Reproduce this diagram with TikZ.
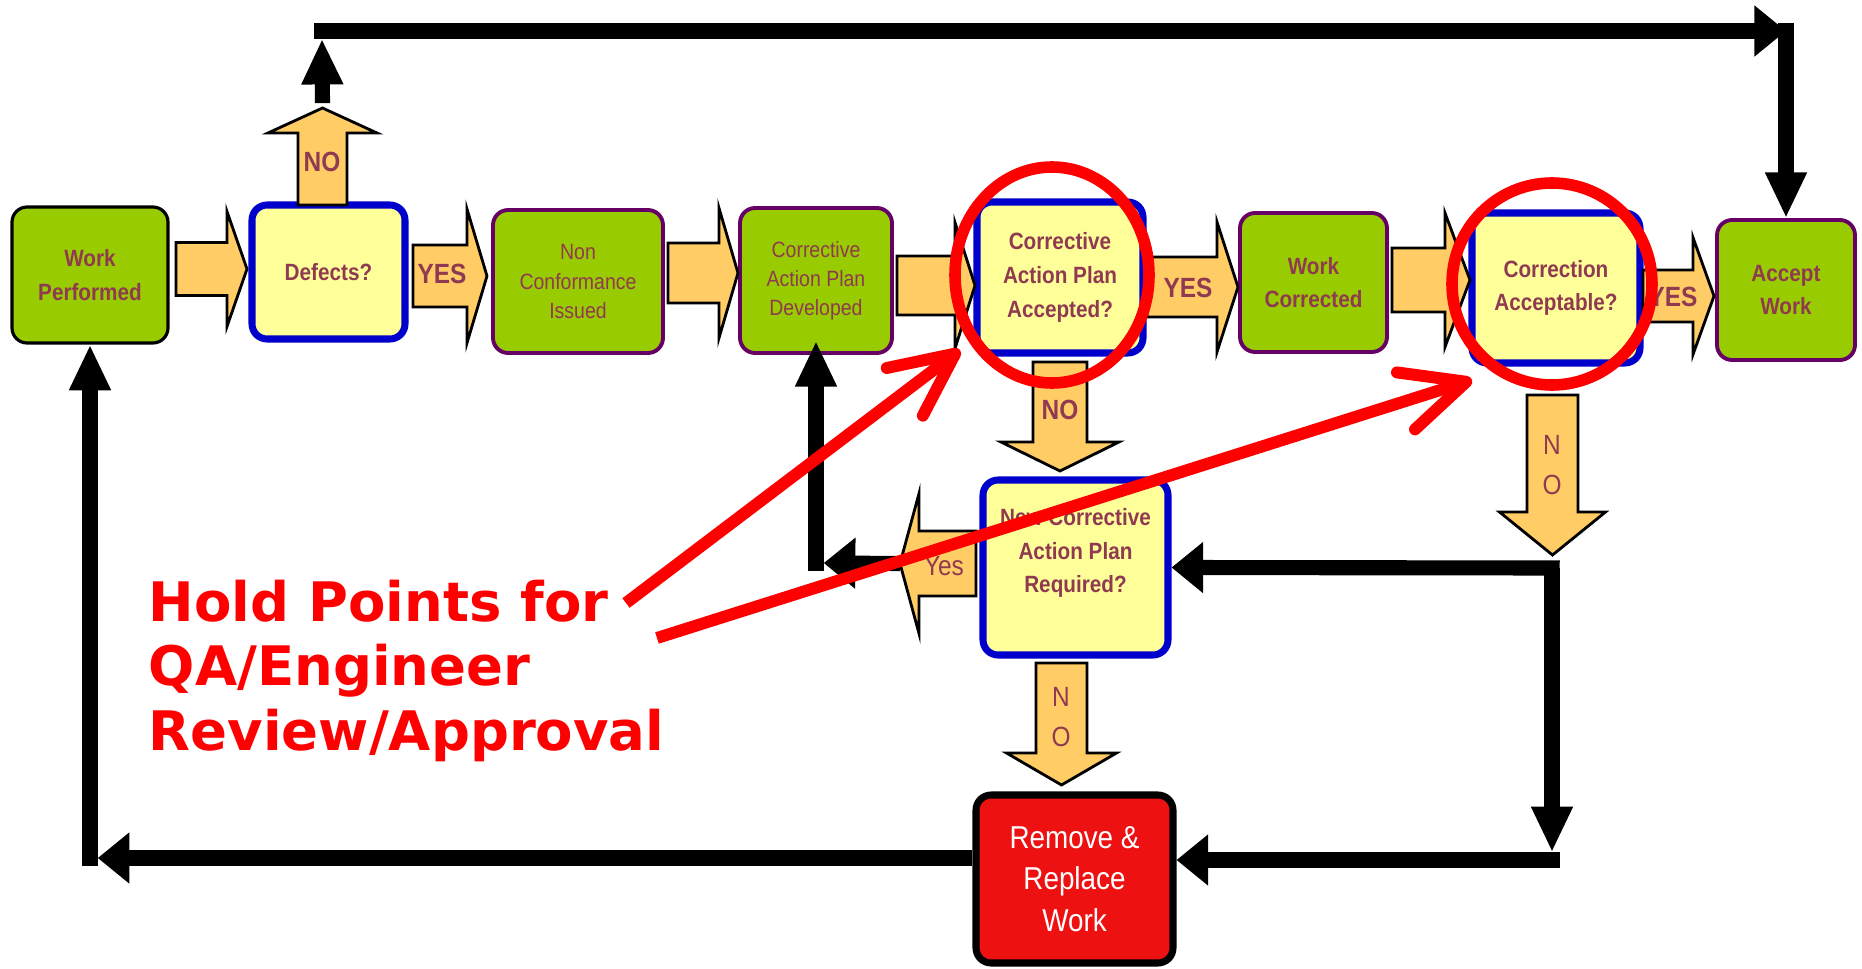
\documentclass[tikz,border=0pt]{standalone}
\usepackage{fontspec}
\newfontfamily\boxfont[FakeStretch=0.88]{Liberation Sans}
\newfontfamily\holdfont{DejaVu Sans}
\usetikzlibrary{arrows.meta, positioning, shapes.geometric, calc}
\definecolor{CLime}{HTML}{99CC00}
\definecolor{CPlum}{HTML}{660066}
\definecolor{CCream}{HTML}{FFFF99}
\definecolor{CBlue}{HTML}{0000CC}
\definecolor{COrange}{HTML}{FFCC66}
\definecolor{CMaroon}{HTML}{8F3A50}
\definecolor{CAlert}{HTML}{FF0000}
\definecolor{CRemove}{HTML}{EE1111}

\tikzset{
  stepbox/.style={rounded corners=4.3pt, inner sep=0pt, align=center, text=CMaroon},
  workbox/.style={stepbox, fill=CLime, draw=CPlum, line width=1.1pt, font=\boxfont\bfseries\fontsize{6.7}{9.6}\selectfont},
  notebox/.style={stepbox, fill=CLime, draw=CPlum, line width=1.1pt, font=\boxfont\fontsize{6.3}{8.3}\selectfont},
  askbox/.style={stepbox, fill=CCream, draw=CBlue, line width=2pt, font=\boxfont\bfseries\fontsize{6.7}{9.6}\selectfont},
  redobox/.style={stepbox, fill=CRemove, draw=black, line width=2pt, text=white, font=\boxfont\fontsize{9}{11.8}\selectfont},
  blockarr/.style={fill=COrange, draw=black, line width=0.8pt, line join=miter},
  arrtxt/.style={inner sep=0pt, text=CMaroon, font=\boxfont\bfseries\fontsize{7.9}{11}\selectfont},
  arrtxtlight/.style={arrtxt, align=center, font=\boxfont\fontsize{7.9}{11.4}\selectfont},
  conn/.style={line width=4.3pt},
  vconn/.style={conn, -{Triangle[length=13pt,width=11pt]}},
  hconn/.style={conn, -{Triangle[length=9pt,width=14pt]}},
  ring/.style={ellipse, draw=CAlert, line width=3.3pt, inner sep=0pt},
  holdtxt/.style={inner sep=0pt, align=left, text=CAlert, font=\holdfont\bfseries\fontsize{15.5}{18.4}\selectfont},
  holdarrow/.style={draw=CAlert, line width=3.4pt, -{Straight Barb[length=18pt,width=17pt,round]}},
}

\begin{document}
\begin{tikzpicture}[x=0.1mm, y=-0.1mm]
    % Orange block arrows: name, start, head base, tip, centre, shaft half, head half
    \def\harr#1#2#3#4#5#6#7{
        \draw[blockarr] (#2,#5-#6) -- (#3,#5-#6) -- (#3,#5-#7) -- (#4,#5)
            -- (#3,#5+#7) -- (#3,#5+#6) -- (#2,#5+#6) -- cycle;
        \coordinate (#1) at (#4,#5);
    }
    \def\varr#1#2#3#4#5#6#7{
        \draw[blockarr] (#5-#6,#2) -- (#5-#6,#3) -- (#5-#7,#3) -- (#5,#4)
            -- (#5+#7,#3) -- (#5+#6,#3) -- (#5+#6,#2) -- cycle;
        \coordinate (#1) at (#5,#4);
    }

    \useasboundingbox (0,0) rectangle (1862,969);

    % Process boxes
    \node[workbox, draw=black, line width=0.9pt, minimum width=15.6mm, minimum height=13.6mm] (wp) at (90,275) {Work\\Performed};
    \node[askbox, minimum width=15.3mm, minimum height=13.4mm] (defects) at (328.5,272) {Defects?};
    \node[notebox, minimum width=17mm, minimum height=14.3mm] (nci) at (578,281.5) {Non\\Conformance\\Issued};
    \node[notebox, minimum width=15.2mm, minimum height=14.5mm] (capd) at (816,280.5) {Corrective\\Action Plan\\Developed};
    \node[askbox, minimum width=16.6mm, minimum height=15.1mm] (capa) at (1060,277.5) {Corrective\\Action Plan\\Accepted?};
    \node[workbox, minimum width=14.7mm, minimum height=13.9mm] (wc) at (1313.5,282.5) {Work\\Corrected};
    \node[askbox, minimum width=16.8mm, minimum height=15mm] (ca) at (1556,288) {Correction\\Acceptable?};
    \node[workbox, minimum width=13.8mm, minimum height=14mm] (aw) at (1786,290) {Accept\\Work};
    \node[askbox, minimum width=18.5mm, minimum height=17.5mm] (newcap) at (1075.5,567.5) {New Corrective\\Action Plan\\Required?\\\mbox{}};
    \node[redobox, minimum width=19.7mm, minimum height=16.8mm] (remove) at (1074.5,879) {Remove \&\\Replace\\Work};

    % Block arrows
    \harr{a1}{176}{227}{247}{269}{26.5}{57.5}
    \harr{a2}{413}{467}{487}{276}{31}{67}
    \harr{a3}{668}{719}{738}{273}{30}{65}
    \harr{a4}{897}{955}{975}{285.5}{29.5}{63}
    \harr{a5}{1147}{1217}{1238}{287}{30}{65}
    \harr{a6}{1392}{1445}{1470}{280}{32}{67}
    \harr{a7}{1643}{1693}{1714}{296}{26}{58.5}
    \harr{yesTip}{976}{919}{900}{563.5}{32.5}{70}
    \varr{noUp}{205}{133}{108}{322.5}{24.5}{54.5}
    \varr{noCapa}{362}{442}{471}{1060}{27}{59}
    \varr{noNew}{663}{753}{785}{1061.5}{25.5}{55}
    \varr{noCa}{395}{512}{555}{1552.5}{25.5}{53}

    \node[arrtxt] (yesDef) at (442,274) {YES};
    \node[arrtxt] (yesCapa) at (1188,288) {YES};
    \node[arrtxt] (yesCa) at (1673,297) {YES};
    \node[arrtxt] (noDef) at (322,162) {NO};
    \node[arrtxt] (noCapaTxt) at (1060,410) {NO};
    \node[arrtxtlight] (noNewTxt) at (1061,717) {N\\O};
    \node[arrtxtlight] (noCaTxt) at (1552,465) {N\\O};
    \node[arrtxtlight] (yesNew) at (944,566) {Yes};

    % Black loops
    \coordinate (topL) at (322,31);
    \coordinate (topR) at (1786,31);
    \draw[vconn] ([yshift=1.4pt]noUp) -- ([yshift=-2.2pt]topL);
    \draw[hconn] ([xshift=-2.2pt]topL) -- (topR);
    \draw[vconn] ([yshift=2.2pt]topR) -- (aw.north);

    \coordinate (capdC) at (816,563);
    \draw[hconn] (yesTip) -- ([xshift=2.2pt]capdC);
    \draw[vconn, shorten >=-4pt] ([yshift=-2.2pt]capdC) -- (capd.south);

    \coordinate (wpC) at (90,858);
    \draw[hconn] (remove.west |- wpC) -- ([xshift=2.2pt]wpC);
    \draw[vconn] ([yshift=-2.2pt]wpC) -- (wp.south);

    \coordinate (caC) at (1552,568);
    \coordinate (caB) at (1552,860);
    \draw[hconn] ([xshift=2.2pt]caC) -- (newcap.east);
    \draw[vconn] (caC) -- ([yshift=2.2pt]caB);
    \draw[hconn] ([xshift=2.2pt]caB) -- (remove.east |- caB);

    % Hold points
    \node[ring, minimum width=19.4mm, minimum height=21.6mm] (ringCapa) at (1052,275) {};
    \node[ring, minimum width=20mm, minimum height=20.2mm] (ringCa) at (1552,284) {};
    \node[holdtxt, anchor=north west] (hold) at (148,579) {Hold Points for\\QA/Engineer\\Review/Approval};
    \coordinate (holdA) at (626,603);
    \coordinate (holdB) at (657,638);
    \coordinate (tipA) at (960,350);
    \coordinate (tipB) at (1472,380);
    \draw[holdarrow] (holdA) -- (tipA);
    \draw[holdarrow] (holdB) -- (tipB);
\end{tikzpicture}
\end{document}
